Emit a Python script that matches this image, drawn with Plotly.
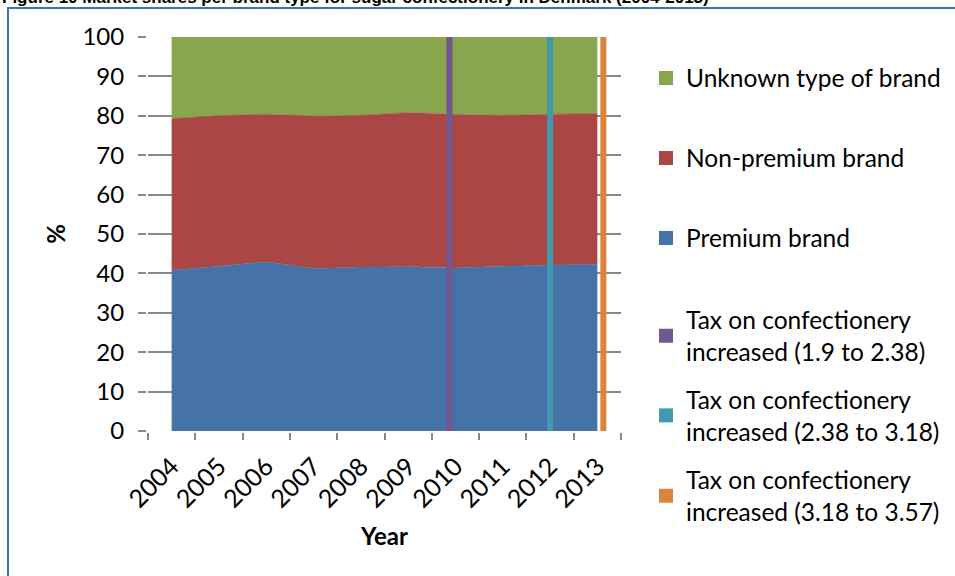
import plotly.graph_objects as go

# ---- data ----
years = ["2004", "2005", "2006", "2007", "2008", "2009", "2010", "2011", "2012", "2013"]
premium = [40.8, 41.8, 42.8, 41.3, 41.6, 41.7, 41.4, 41.8, 42.1, 42.3]
non_premium = [38.5, 38.2, 37.6, 38.6, 38.5, 39.1, 39.0, 38.3, 38.3, 38.3]
unknown = [20.7, 20.0, 19.6, 20.1, 19.9, 19.2, 19.6, 19.9, 19.6, 19.4]

tax_names = [
    "Tax on confectionery<br>increased (1.9 to 2.38)",
    "Tax on confectionery<br>increased (2.38 to 3.18)",
    "Tax on confectionery<br>increased (3.18 to 3.57)",
]
tax_years = ["2010", "2012", "2013"]
tax_values = [100, 100, 100]

area_names = ["Premium brand", "Non-premium brand", "Unknown type of brand"]
area_values = [premium, non_premium, unknown]
area_colors = ["#4572A7", "#AA4643", "#89A54E"]
tax_colors = ["#71588F", "#4198AF", "#DB843D"]

# ---- layout constants ----
W, H = 955, 576
L, R, T, B = 148, 621, 37, 431
PW, PH = R - L, B - T
FONT = "Lato"

def px_x(p):
    return (p - L) / PW

def px_y(p):
    return (B - p) / PH

fig = go.Figure()

for name, vals, col in zip(area_names, area_values, area_colors):
    fig.add_trace(go.Scatter(
        x=years, y=vals, name=name, stackgroup="one", mode="lines",
        line=dict(width=0.5, color=col, shape="spline", smoothing=0.5),
        fillcolor=col, showlegend=False, hoverinfo="skip",
    ))

bar_w = 0.127
offsets = [-1.5 * bar_w, -0.5 * bar_w, 0.5 * bar_w]
for i, (name, yr, v, col) in enumerate(zip(tax_names, tax_years, tax_values, tax_colors)):
    fig.add_trace(go.Bar(
        x=[yr], y=[v], name=name, marker=dict(color=col, line=dict(width=0)),
        width=bar_w, offset=offsets[i], showlegend=False, zorder=2,
    ))

# legend entries (one legend per item, to reproduce the spacing)
legend_items = [
    (area_names[2], area_colors[2], 78),
    (area_names[1], area_colors[1], 158),
    (area_names[0], area_colors[0], 238),
    (tax_names[0], tax_colors[0], 336),
    (tax_names[1], tax_colors[1], 415.5),
    (tax_names[2], tax_colors[2], 496),
]
legend_layouts = {}
for k, (name, col, yc) in enumerate(legend_items):
    lname = "legend" if k == 0 else f"legend{k+1}"
    fig.add_trace(go.Scatter(
        x=[None], y=[None], mode="markers", name=name,
        marker=dict(symbol="square", size=14, color=col),
        legend=lname, showlegend=True,
    ))
    legend_layouts[lname] = dict(
        x=px_x(646), xanchor="left", y=px_y(yc), yanchor="middle",
        font=dict(family=FONT, size=24.5, color="#000000"),
        bgcolor="rgba(0,0,0,0)", borderwidth=0, itemwidth=30,
        tracegroupgap=0,
    )

fig.update_layout(
    width=W, height=H,
    margin=dict(l=L, r=W - R, t=T, b=H - B, pad=0, autoexpand=False),
    paper_bgcolor="white", plot_bgcolor="white",
    barmode="overlay",
    showlegend=True,
    font=dict(family=FONT, size=24, color="#000000"),
    **legend_layouts,
)

fig.update_xaxes(
    type="category", range=[-0.5, 9.5], tickson="boundaries",
    tickangle=-45, ticks="outside", ticklen=7, tickwidth=2, tickcolor="#888888",
    showline=True, linecolor="#888888", linewidth=2, mirror=False,
    showgrid=False, zeroline=False, ticklabelstandoff=9,
    tickfont=dict(family=FONT, size=25, color="#000000"),
    title=dict(text="<b>Year</b>", font=dict(family=FONT, size=24, color="#000000"), standoff=16),
)
fig.update_yaxes(
    range=[0, 100], dtick=10, ticks="outside", ticklen=8, tickwidth=2, tickcolor="#888888",
    showline=True, linecolor="#888888", linewidth=2, mirror=True,
    showgrid=True, gridcolor="#888888", gridwidth=2, zeroline=False,
    ticklabelstandoff=9,
    tickfont=dict(family=FONT, size=24, color="#000000"),
    title=dict(text="<b>%</b>", font=dict(family=FONT, size=24, color="#000000"), standoff=10),
)

# cut-off figure caption and chart border
fig.add_annotation(
    text="<b>Figure 10 Market shares per brand type for sugar confectionery in Denmark (2004-2013)</b>",
    xref="paper", yref="paper", x=px_x(0), y=px_y(9), xanchor="left", yanchor="bottom",
    showarrow=False, font=dict(family="Liberation Sans", size=17, color="#000000"),
)
fig.add_shape(
    type="rect", xref="paper", yref="paper",
    x0=px_x(8), x1=px_x(980), y0=px_y(600), y1=px_y(8),
    line=dict(color="#3C74B4", width=2), fillcolor="rgba(0,0,0,0)", layer="below",
)

fig.write_html("out.html")
